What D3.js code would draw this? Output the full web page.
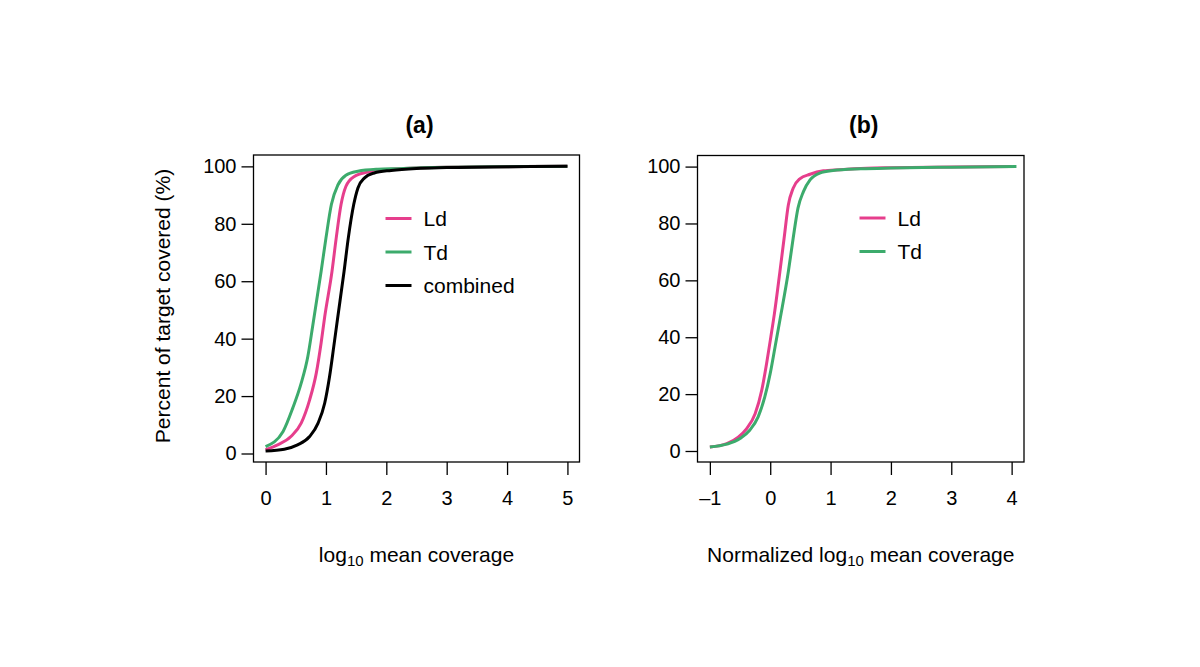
<!DOCTYPE html>
<html>
<head>
<meta charset="utf-8">
<script src="https://cdn.jsdelivr.net/npm/d3@7"></script>
<style>
  body { margin: 0; background: #fff; }
  svg text { font-family: "Liberation Sans", Arial, Helvetica, sans-serif; fill: #000; }
</style>
</head>
<body>
<div id="chart"></div>
<script>
const W = 1200, H = 667;

// panel (a): log10 mean coverage vs percent of target covered
const aLdX = [0, 0.2, 0.42, 0.59, 0.73, 0.84, 0.92, 0.98, 1.10, 1.17, 1.25, 1.33, 1.47, 1.69, 2.08, 2.5, 3.0, 4.0, 5.0];
const aLdY = [1.3, 3.0, 5.9, 10.6, 18.7, 28, 38.5, 47.7, 63.4, 75, 86.7, 93, 96.5, 98, 99, 99.4, 99.7, 99.9, 100];
const aTdX = [0, 0.29, 0.45, 0.59, 0.70, 0.78, 0.92, 1.0, 1.09, 1.20, 1.33, 1.53, 1.86, 2.19, 2.6, 3.0, 4.0, 5.0];
const aTdY = [2.4, 7.7, 15.8, 24.5, 33.8, 44.3, 63.4, 75, 86.7, 93.6, 96.9, 98.3, 99, 99.2, 99.5, 99.7, 99.9, 100];
const aAllX = [0, 0.31, 0.53, 0.73, 0.87, 0.98, 1.06, 1.13, 1.19, 1.30, 1.37, 1.46, 1.53, 1.64, 1.80, 2.08, 2.5, 3.0, 4.0, 5.0];
const aAllY = [0.9, 1.5, 3.0, 5.9, 10.6, 17.6, 26.8, 37.3, 46.6, 63.4, 75, 86.7, 92.5, 96, 97.7, 98.6, 99.3, 99.6, 99.9, 100];

// panel (b): normalized log10 mean coverage
const bLdX = [-1, -0.72, -0.53, -0.39, -0.25, -0.14, -0.06, 0.01, 0.07, 0.16, 0.23, 0.30, 0.38, 0.49, 0.66, 0.88, 1.15, 1.6, 2.0, 3.0, 4.0];
const bLdY = [1.4, 2.6, 4.9, 7.9, 13.1, 21.4, 30.8, 40.1, 48.4, 63, 74.8, 86.5, 92.4, 95.7, 97.3, 98.5, 98.9, 99.4, 99.6, 99.9, 100];
const bTdX = [-1, -0.72, -0.50, -0.34, -0.20, -0.09, 0.0, 0.08, 0.16, 0.30, 0.38, 0.46, 0.55, 0.66, 0.82, 1.04, 1.5, 2.0, 3.0, 4.08];
const bTdY = [1.4, 2.4, 4.4, 7.3, 12, 19, 27.3, 36.6, 46, 63, 74.8, 85.4, 91.2, 95.3, 97.7, 98.6, 99.2, 99.5, 99.8, 100];

const yTicks = [0, 20, 40, 60, 80, 100];
const aXTicks = [0, 1, 2, 3, 4, 5];
const bXTicks = [-1, 0, 1, 2, 3, 4];

const colLd = "#e63e8c", colTd = "#3cab6c", colAll = "#000000";

const svg = d3.select("#chart").append("svg")
  .attr("width", W)
  .attr("height", H);

function zip(xs, ys) { return xs.map((x, i) => [x, ys[i]]); }

function drawPanel(opt) {
  const x = d3.scaleLinear().domain(opt.xDomain).range([opt.left, opt.right]);
  const y = d3.scaleLinear().domain(opt.yDomain).range([opt.bottom, opt.top]);
  const g = svg.append("g");

  // title
  g.append("text")
    .attr("x", (opt.left + opt.right) / 2 + 3)
    .attr("y", 133)
    .attr("text-anchor", "middle")
    .attr("font-size", "23px")
    .attr("font-weight", "bold")
    .text(opt.title);

  // y axis
  const yAxis = d3.axisLeft(y).tickValues(yTicks).tickSize(12).tickPadding(5);
  const ya = g.append("g")
    .attr("transform", `translate(${opt.left},0)`)
    .call(yAxis);
  ya.select(".domain").remove();
  ya.selectAll("text").attr("font-size", "20px");
  ya.selectAll("line").attr("stroke", "#000").attr("stroke-width", 1.3);

  // x axis
  const xAxis = d3.axisBottom(x).tickValues(opt.xTicks).tickSize(13).tickPadding(16)
    .tickFormat(d => d < 0 ? "\u2013" + Math.abs(d) : d);
  const xa = g.append("g")
    .attr("transform", `translate(0,${opt.bottom})`)
    .call(xAxis);
  xa.select(".domain").remove();
  xa.selectAll("text").attr("font-size", "20px");
  xa.selectAll("line").attr("stroke", "#000").attr("stroke-width", 1.3);

  // lines
  const line = d3.line().x(d => x(d[0])).y(d => y(d[1])).curve(d3.curveMonotoneX);
  opt.series.forEach(s => {
    g.append("path")
      .datum(zip(s.xs, s.ys))
      .attr("fill", "none")
      .attr("stroke", s.color)
      .attr("stroke-width", 3)
      .attr("stroke-linejoin", "round")
      .attr("d", line);
  });

  // box
  g.append("rect")
    .attr("x", opt.left).attr("y", opt.top)
    .attr("width", opt.right - opt.left).attr("height", opt.bottom - opt.top)
    .attr("fill", "none").attr("stroke", "#000").attr("stroke-width", 1.3);

  // legend
  const lg = g.append("g").attr("transform", `translate(${opt.legX},${opt.legY})`);
  opt.series.forEach((s, i) => {
    lg.append("line")
      .attr("x1", 0).attr("x2", 26)
      .attr("y1", i * 33.5).attr("y2", i * 33.5)
      .attr("stroke", s.color).attr("stroke-width", 3);
    lg.append("text")
      .attr("x", 38)
      .attr("y", i * 33.5 + 7.5)
      .attr("font-size", "21px")
      .text(s.name);
  });

  // x label
  const xl = g.append("text")
    .attr("x", (opt.left + opt.right) / 2)
    .attr("y", 562)
    .attr("text-anchor", "middle")
    .attr("font-size", "21px");
  xl.append("tspan").text(opt.xPrefix + "log");
  xl.append("tspan").attr("font-size", "15px").attr("dy", 4).text("10");
  xl.append("tspan").attr("dy", -4).text(" mean coverage");

  return g;
}

drawPanel({
  title: "(a)",
  left: 253.5, right: 579.5, top: 155, bottom: 462,
  xDomain: [-0.2, 5.2], yDomain: [-2.96, 103.96],
  xTicks: aXTicks,
  legX: 385.5, legY: 218.5,
  xPrefix: "",
  series: [
    { name: "Ld", color: colLd, xs: aLdX, ys: aLdY },
    { name: "Td", color: colTd, xs: aTdX, ys: aTdY },
    { name: "combined", color: colAll, xs: aAllX, ys: aAllY }
  ]
});

drawPanel({
  title: "(b)",
  left: 697.5, right: 1024, top: 155.5, bottom: 462,
  xDomain: [-1.205, 4.205], yDomain: [-3.87, 103.9],
  xTicks: bXTicks,
  legX: 859.5, legY: 218,
  xPrefix: "Normalized ",
  series: [
    { name: "Ld", color: colLd, xs: bLdX, ys: bLdY },
    { name: "Td", color: colTd, xs: bTdX, ys: bTdY }
  ]
});

// y label (shared, left)
svg.append("text")
  .attr("transform", "translate(170,306) rotate(-90)")
  .attr("text-anchor", "middle")
  .attr("font-size", "21px")
  .text("Percent of target covered (%)");
</script>
</body>
</html>
